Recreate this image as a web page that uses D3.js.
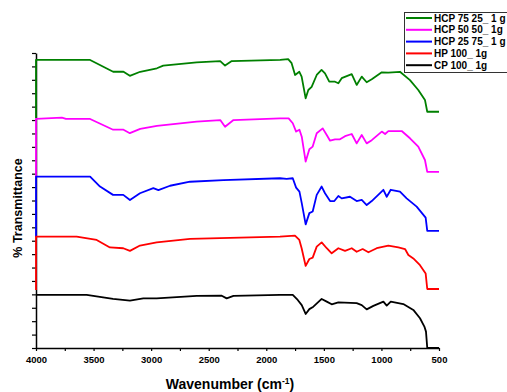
<!DOCTYPE html>
<html>
<head>
<meta charset="utf-8">
<script src="https://cdn.jsdelivr.net/npm/d3@7"></script>
<style>
  body { margin: 0; background: #fff; }
  svg { font-family: "Liberation Sans", Arial, sans-serif; }
</style>
</head>
<body>
<svg id="chart" width="507" height="392"></svg>
<script>
// FTIR spectra, [wavenumber, % transmittance (stacked, arbitrary offset)]
var hcp7525 = [[4000,85.8],[4000,107.4],[3530,107.4],[3330,103.0],[3240,103.0],[3185,101.5],[3095,103.0],
  [2950,104.3],[2895,105.3],[2605,106.5],[2400,107.0],[2358,105.3],[2300,107.0],[1880,107.4],[1810,107.7],
  [1780,106.2],[1750,101.8],[1713,103.0],[1693,101.2],[1658,93.1],[1635,96.2],[1606,97.4],[1562,101.8],
  [1520,103.7],[1490,102.4],[1453,99.3],[1403,99.3],[1374,98.7],[1345,100.6],[1258,102.1],[1215,98.1],
  [1171,101.2],[1128,99.1],[1084,100.2],[997,102.8],[940,102.7],[839,103.0],[752,99.9],[680,96.2],
  [622,92.5],[602,88.1],[500,88.1]];
var hcp5050 = [[4000,63.8],[4000,85.4],[3775,85.9],[3740,85.4],[3530,85.4],[3330,81.4],[3240,81.4],
  [3185,80.1],[3095,81.7],[2950,82.8],[2605,84.4],[2400,85.0],[2358,82.5],[2285,85.0],[1881,85.6],
  [1806,85.6],[1770,83.8],[1741,80.7],[1712,81.4],[1692,78.8],[1658,69.5],[1626,74.1],[1597,75.1],
  [1562,80.1],[1510,81.9],[1475,79.4],[1446,77.3],[1403,77.8],[1360,77.8],[1316,79.0],[1258,79.8],
  [1215,76.3],[1171,79.4],[1128,76.3],[1084,77.5],[997,80.7],[968,79.8],[940,80.9],[824,80.9],
  [752,78.2],[680,75.1],[622,70.1],[602,65.7],[500,65.7]];
var hcp2575 = [[4000,41.4],[4000,63.9],[3530,63.9],[3444,60.2],[3331,57.1],[3242,57.1],[3184,55.2],
  [3097,57.7],[2981,59.6],[2937,58.9],[2836,60.5],[2662,62.0],[2373,62.6],[1881,63.3],[1823,63.1],
  [1770,63.3],[1741,59.8],[1712,58.3],[1692,54.0],[1658,46.1],[1626,50.3],[1597,50.9],[1562,57.1],
  [1519,60.2],[1490,57.7],[1446,54.8],[1409,54.8],[1374,56.7],[1345,55.8],[1273,56.4],[1215,54.8],
  [1171,55.2],[1128,53.3],[1084,54.8],[983,59.0],[954,56.4],[919,59.0],[839,58.3],[781,55.8],
  [694,52.7],[616,48.6],[602,43.7],[500,43.7]];
var hp100 = [[4000,21.6],[4000,41.5],[3647,41.5],[3473,40.3],[3358,37.5],[3242,37.2],[3184,36.2],
  [3097,38.2],[2952,39.4],[2662,40.7],[1881,41.5],[1751,41.9],[1713,40.3],[1693,37.2],[1658,30.6],
  [1626,33.2],[1597,33.7],[1562,37.8],[1519,39.4],[1475,37.2],[1432,35.3],[1374,37.2],[1316,36.2],
  [1258,37.2],[1215,35.9],[1163,36.9],[1113,35.7],[1041,37.2],[940,38.2],[853,37.5],[795,36.9],
  [766,34.7],[723,33.4],[665,30.9],[616,27.8],[602,22.0],[500,22.0]];
var cp100 = [[4000,19.8],[3560,19.8],[3331,18.3],[3184,17.7],[3068,18.5],[2952,18.5],[2604,19.4],
  [2387,19.5],[2344,18.5],[2285,19.4],[1881,19.8],[1770,19.8],[1727,17.9],[1692,16.0],[1658,12.7],
  [1626,14.5],[1591,15.4],[1519,18.3],[1475,17.3],[1432,16.3],[1374,17.0],[1215,16.7],[1171,16.0],
  [1128,14.4],[1070,15.7],[983,17.3],[954,15.8],[919,17.3],[810,16.4],[723,14.2],[665,11.1],
  [627,8.0],[613,6.1],[602,0],[500,0]];

var seriesNames = ["HCP 75 25_ 1 g", "HCP 50 50_ 1g", "HCP 25 75_ 1 g", "HP 100_ 1g", "CP 100_ 1g"];
var seriesData = [hcp7525, hcp5050, hcp2575, hp100, cp100];
var colors = ["#008000", "#ff00ff", "#0000ff", "#ff0000", "#000000"];

var xTicks = d3.range(4000, 499, -250);
var yTicks = d3.range(0, 111, 5);

var svg = d3.select("#chart");

var x = d3.scaleLinear().domain([4000, 500]).range([36, 439]);
var y = d3.scaleLinear().domain([0, 110]).range([348, 53]);

// axes
var xAxis = svg.append("g")
  .attr("transform", "translate(0,348)")
  .call(d3.axisBottom(x).tickValues(xTicks).tickSize(3).tickSizeOuter(0)
    .tickFormat(function(d) { return d % 500 === 0 ? d : ""; }));
xAxis.selectAll("text")
  .attr("font-size", 9.5).attr("font-weight", "bold").attr("dy", "0.95em")
  .attr("font-family", "Liberation Sans, Arial, sans-serif");

var yAxis = svg.append("g")
  .attr("transform", "translate(36,0)")
  .call(d3.axisLeft(y).tickValues(yTicks).tickSize(4).tickSizeOuter(0).tickFormat(""));

svg.selectAll(".domain").attr("stroke", "#000").attr("stroke-width", 1.5);
svg.selectAll(".tick line").attr("stroke", "#000").attr("stroke-width", 1.2);

// spectra
var line = d3.line()
  .x(function(d) { return x(d[0]); })
  .y(function(d) { return y(d[1]); });

svg.selectAll("path.spectrum")
  .data(seriesData)
  .enter()
  .append("path")
  .attr("class", "spectrum")
  .attr("d", line)
  .attr("fill", "none")
  .attr("stroke", function(d, i) { return colors[i]; })
  .attr("stroke-width", 1.8)
  .attr("stroke-linejoin", "round");

// axis titles
var xTitle = svg.append("text")
  .attr("x", 230).attr("y", 389)
  .attr("text-anchor", "middle")
  .attr("font-size", 14).attr("font-weight", "bold");
xTitle.append("tspan").text("Wavenumber (cm");
xTitle.append("tspan").attr("font-size", 8.5).attr("dy", -5).text("-1");
xTitle.append("tspan").attr("dy", 5).text(")");

svg.append("text")
  .attr("transform", "translate(22,208) rotate(-90)")
  .attr("text-anchor", "middle")
  .attr("font-size", 12.5).attr("font-weight", "bold")
  .text("% Transmittance");

// legend
var legend = svg.append("g");
legend.append("rect")
  .attr("x", 404.5).attr("y", 12.5)
  .attr("width", 104).attr("height", 60)
  .attr("fill", "#fff").attr("stroke", "#333").attr("stroke-width", 1);

var rows = legend.selectAll("g.row")
  .data(seriesNames)
  .enter()
  .append("g")
  .attr("transform", function(d, i) { return "translate(0," + (18 + i * 11.8) + ")"; });
rows.append("line")
  .attr("x1", 406).attr("x2", 432)
  .attr("stroke", function(d, i) { return colors[i]; })
  .attr("stroke-width", 2);
rows.append("text")
  .attr("x", 434).attr("y", 3.6)
  .attr("font-size", 10).attr("font-weight", "bold")
  .text(function(d) { return d; });
</script>
</body>
</html>
